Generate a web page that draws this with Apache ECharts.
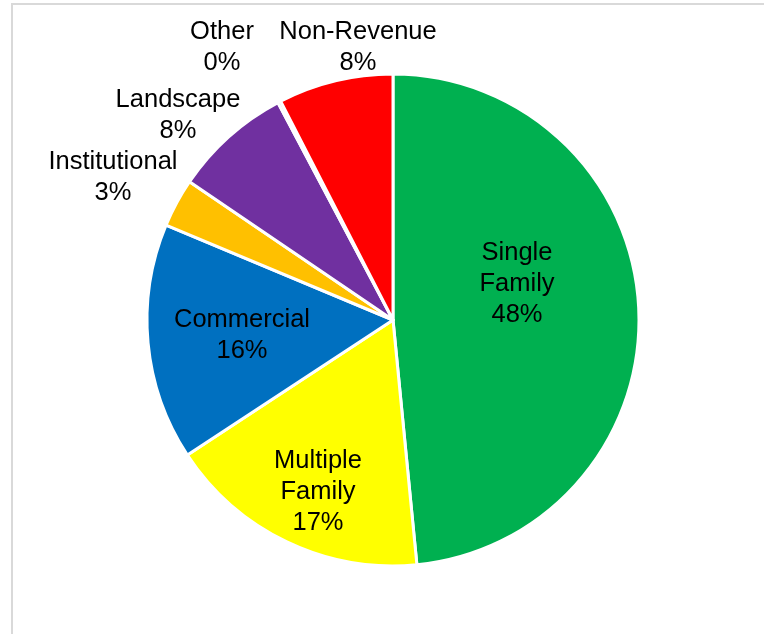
<!DOCTYPE html>
<html>
<head>
<meta charset="utf-8">
<style>
  html, body { margin: 0; padding: 0; background: #fff; }
  #chart { width: 764px; height: 634px; }
</style>
<script src="https://cdn.jsdelivr.net/npm/echarts@6/dist/echarts.min.js"></script>
</head>
<body>
<div id="chart"></div>
<script>
// Water use by customer class (share of total)
const categories = ['Single\nFamily', 'Multiple\nFamily', 'Commercial', 'Institutional', 'Landscape', 'Other', 'Non-Revenue'];
const shares = [48.45, 17.3, 15.55, 3.2, 7.75, 0.2, 7.55];
const sliceColors = ['#00B050', '#FFFF00', '#0070C0', '#FFC000', '#7030A0', '#A5A5A5', '#FF0000'];

// Label anchor points (pixel centres of each label block)
const labelAnchors = [
  [517, 284], [318, 492], [242, 335], [113, 177], [178, 115], [222, 47], [358, 47]
];

const chart = echarts.init(document.getElementById('chart'), null, { renderer: 'canvas' });

chart.setOption({
  backgroundColor: '#fff',
  animation: false,
  graphic: [{
    type: 'rect',
    shape: { x: 12, y: 4, width: 800, height: 700 },
    style: { fill: 'none', stroke: '#D9D9D9', lineWidth: 2 },
    silent: true
  }],
  series: [{
    type: 'pie',
    center: [393, 320],
    radius: 246,
    startAngle: 90,
    clockwise: true,
    percentPrecision: 0,
    avoidLabelOverlap: false,
    itemStyle: { borderColor: '#fff', borderWidth: 3 },
    label: {
      show: true,
      position: 'inside',
      formatter: '{b}\n{d}%',
      color: '#000',
      fontFamily: 'Liberation Sans, Arial, sans-serif',
      fontSize: 25.5,
      lineHeight: 31,
      align: 'center'
    },
    labelLine: { show: false },
    labelLayout: function (params) {
      const p = labelAnchors[params.dataIndex];
      return { x: p[0], y: p[1], align: 'center', verticalAlign: 'middle' };
    },
    emphasis: { disabled: true },
    data: categories.map((name, i) => ({
      name: name,
      value: shares[i],
      itemStyle: { color: sliceColors[i] }
    }))
  }]
});
</script>
</body>
</html>
